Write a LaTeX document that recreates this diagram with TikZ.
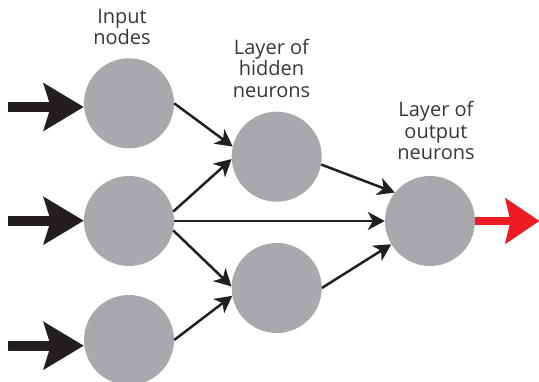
\documentclass[tikz,border=0pt]{standalone}
\usepackage{fontspec}
\setmainfont{Open Sans}
\usetikzlibrary{arrows.meta}
\definecolor{nodegrey}{RGB}{167,169,172}
\definecolor{inkblack}{RGB}{35,31,32}
\definecolor{outred}{RGB}{237,28,36}
\definecolor{textgrey}{RGB}{55,55,55}
\begin{document}
\begin{tikzpicture}[x=1pt,y=1pt,
  neuron/.style={circle,fill=nodegrey,minimum size=90pt,inner sep=0pt},
  link/.style={draw=inkblack,line width=2.5pt,-{Stealth[length=17pt,width=18pt,inset=5pt]}},
  bigin/.style={draw=inkblack,line width=10pt,-{Stealth[length=40pt,width=47pt,inset=7pt]}},
  bigout/.style={draw=outred,line width=8.5pt,-{Stealth[length=34pt,width=45pt,inset=5pt]}},
  label/.style={font=\fontsize{20}{21.7}\selectfont,text=textgrey,align=center,anchor=base,inner sep=0pt}
]
\useasboundingbox (0,0) rectangle (539,382);
% nodes
\node[neuron] (in1) at (129,278.7) {};
\node[neuron] (in2) at (129,161) {};
\node[neuron] (in3) at (129,42) {};
\node[neuron] (h1) at (276.7,225.3) {};
\node[neuron] (h2) at (276.7,94) {};
\node[neuron] (out) at (430,161) {};
% labels (base = baseline of last line)
\node[label] (lin) at (122,337) {Input\\nodes};
\node[label] (lhid) at (271.5,284.5) {Layer of\\hidden\\neurons};
\node[label] (lout) at (436,222) {Layer of\\output\\neurons};
% input arrows
\coordinate (s1) at (8,275);
\coordinate (s2) at (8,161.3);
\coordinate (s3) at (8,36.3);
\draw[bigin] (s1) -- (s1 -| in1.west);
\draw[bigin] (s2) -- (s2 -| in2.west);
\draw[bigin] (s3) -- (s3 -| in3.west);
% output arrow
\coordinate (e1) at (539.5,161);
\draw[bigout] (out.east) -- (e1);
% links
\draw[link] (in1.east) -- (h1.167);
\draw[link] (in2.12) -- (h1.183);
\draw[link] (in2.east) -- (out.west);
\draw[link] (in2.-12) -- (h2.178);
\draw[link] (in3.east) -- (h2.190);
\draw[link] (h1.-10) -- (out.141);
\draw[link] (h2.east) -- (out.211);
\end{tikzpicture}
\end{document}
